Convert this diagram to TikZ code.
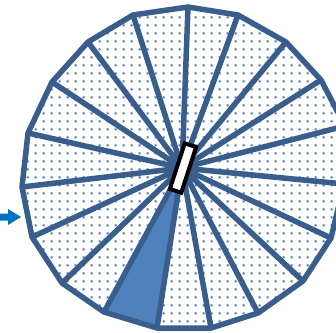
\documentclass[tikz,border=0pt]{standalone}
\usetikzlibrary{patterns}
\definecolor{edgec}{HTML}{3A5E8C}
\definecolor{dotc}{HTML}{3F6FC0}
\definecolor{wedgec}{HTML}{4F81BD}
\definecolor{arrowc}{HTML}{0070C0}
\pgfdeclarepatternformonly{sparsedots}{\pgfpointorigin}{\pgfpoint{8pt}{8pt}}{\pgfpoint{8pt}{8pt}}{%
  \pgfpathrectangle{\pgfpoint{3pt}{3pt}}{\pgfpoint{2.2pt}{2.2pt}}\pgfusepath{fill}}
\tikzset{
  edge/.style={draw=edgec, line width=5.5pt},
  dotfill/.style={pattern=sparsedots, pattern color=dotc},
  slot/.style={draw=black, fill=white, line width=4pt, minimum width=12pt, minimum height=48pt, inner sep=0pt, rotate=-18},
}
\begin{document}
\begin{tikzpicture}[x=1pt,y=-1pt]
\path[use as bounding box] (0,0) rectangle (336,332);
\coordinate (c) at (182,168);
\coordinate (v1) at (133,15);
\coordinate (v2) at (188,7);
\coordinate (v3) at (238,15);
\coordinate (v4) at (286,42);
\coordinate (v5) at (321,80);
\coordinate (v6) at (345,126);
\coordinate (v7) at (344,184);
\coordinate (v8) at (331,238);
\coordinate (v9) at (303,281);
\coordinate (v10) at (258,313);
\coordinate (v11) at (211,328);
\coordinate (v12) at (157,328);
\coordinate (v13) at (104,312);
\coordinate (v14) at (62,283);
\coordinate (v15) at (32,237);
\coordinate (v16) at (22,187);
\coordinate (v17) at (28,133);
\coordinate (v18) at (52,82);
\coordinate (v19) at (88,42);
\begin{scope}
\clip (0,0) rectangle (336,332);
\fill[white] (v1)--(v2)--(v3)--(v4)--(v5)--(v6)--(v7)--(v8)--(v9)--(v10)--(v11)--(v12)--(v13)--(v14)--(v15)--(v16)--(v17)--(v18)--(v19)--cycle;
\fill[dotfill] (v1)--(v2)--(v3)--(v4)--(v5)--(v6)--(v7)--(v8)--(v9)--(v10)--(v11)--(v12)--(v13)--(v14)--(v15)--(v16)--(v17)--(v18)--(v19)--cycle;
\fill[wedgec] (c)--(v12)--(v13)--cycle;
\foreach \i in {1,...,19} {\draw[edge] (c)--(v\i);}
\draw[edge] (v1)--(v2)--(v3)--(v4)--(v5)--(v6)--(v7)--(v8)--(v9)--(v10)--(v11)--(v12)--(v13)--(v14)--(v15)--(v16)--(v17)--(v18)--(v19)--cycle;
\end{scope}
\node[slot] (s) at (183,168) {};
\fill[arrowc] (0,213.5) -- (8,213.5) -- (8,209) -- (21,217) -- (8,225) -- (8,220.5) -- (0,220.5) -- cycle;
\end{tikzpicture}
\end{document}
